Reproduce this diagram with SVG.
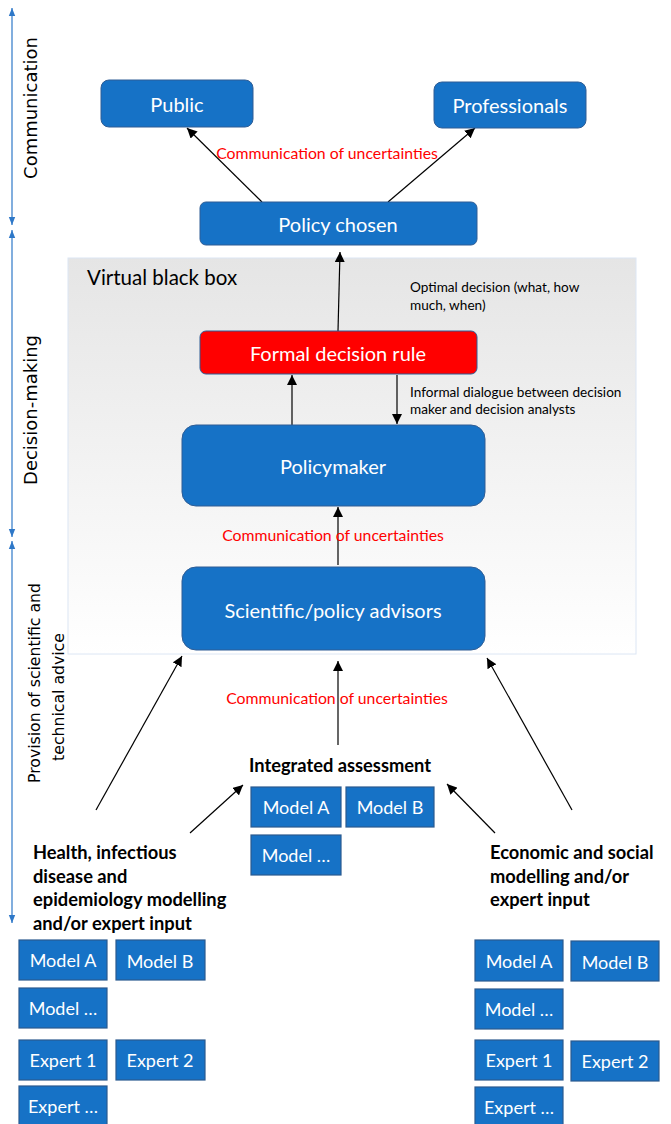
<svg xmlns="http://www.w3.org/2000/svg" width="671" height="1124" viewBox="0 0 671 1124">
<style>
.rb{fill:#1672c6;stroke:#2f5d95;stroke-width:1}
.sq{fill:#1672c6;stroke:#2b5a8f;stroke-width:1.2}
.wt{fill:#fff;font-family:Lato,"Open Sans",sans-serif;text-anchor:middle;dominant-baseline:central}
.red{fill:#ff0000;font-family:Lato,"Open Sans",sans-serif;font-size:15.8px;text-anchor:middle}
.bk{fill:#000;font-family:Lato,"Open Sans",sans-serif;font-size:13.6px}
.bold{fill:#000;font-family:Lato,"Open Sans",sans-serif;font-size:18.3px;font-weight:bold}
.ax{fill:#000;font-family:"DejaVu Sans",sans-serif;font-size:18px;text-anchor:middle}
.ax2{fill:#000;font-family:"DejaVu Sans",sans-serif;font-size:15.7px;text-anchor:middle}
.con{stroke:#000;stroke-width:1.2;fill:none;marker-end:url(#ah)}
.axl{stroke:#2e78c8;stroke-width:1.2;fill:none}
</style>
<defs>
<marker id="ah" markerWidth="10" markerHeight="10" viewBox="0 0 10 10" refX="10" refY="5" orient="auto" markerUnits="userSpaceOnUse">
<path d="M0,0 L10,5 L0,10 Z" fill="#000"/>
</marker>
<marker id="ba" markerWidth="8" markerHeight="8" viewBox="0 0 10 10" refX="10" refY="5" orient="auto" markerUnits="userSpaceOnUse">
<path d="M0,1 L10,5 L0,9 Z" fill="#2e78c8"/>
</marker>
<linearGradient id="gb" x1="0" y1="0" x2="0" y2="1">
<stop offset="0" stop-color="#e5e5e5"/>
<stop offset="1" stop-color="#ffffff"/>
</linearGradient>
</defs>

<g id="axis">
<line class="axl" x1="12" y1="112" x2="12" y2="8" marker-end="url(#ba)"/>
<line class="axl" x1="12" y1="112" x2="12" y2="225" marker-end="url(#ba)"/>
<line class="axl" x1="12" y1="380" x2="12" y2="230" marker-end="url(#ba)"/>
<line class="axl" x1="12" y1="380" x2="12" y2="537" marker-end="url(#ba)"/>
<line class="axl" x1="12" y1="700" x2="12" y2="541" marker-end="url(#ba)"/>
<line class="axl" x1="12" y1="700" x2="12" y2="923" marker-end="url(#ba)"/>
<text class="ax" transform="translate(37,108) rotate(-90)">Communication</text>
<text class="ax" transform="translate(37,410) rotate(-90)">Decision-making</text>
<text class="ax2" transform="translate(40,683) rotate(-90)">Provision of scientific and</text>
<text class="ax2" transform="translate(64,697) rotate(-90)">technical advice</text>
</g>

<g id="blackbox">
<rect x="68" y="258" width="568" height="396" fill="url(#gb)" stroke="#dce6f4" stroke-width="1"/>
<text x="87" y="285" font-family="Lato,'Open Sans',sans-serif" font-size="20.5" fill="#000">Virtual black box</text>
</g>

<g id="connectors">
<line class="con" x1="262" y1="202" x2="187" y2="128"/>
<line class="con" x1="388" y1="202" x2="475" y2="128"/>
<line class="con" x1="338" y1="331" x2="340" y2="252"/>
<line class="con" x1="292" y1="425" x2="292" y2="375"/>
<line class="con" x1="397" y1="375" x2="397" y2="424"/>
<line class="con" x1="338" y1="565" x2="338" y2="507"/>
<line class="con" x1="96" y1="810" x2="182" y2="656"/>
<line class="con" x1="338" y1="745" x2="338" y2="661"/>
<line class="con" x1="572" y1="810" x2="487" y2="658"/>
<line class="con" x1="190" y1="833" x2="243" y2="785"/>
<line class="con" x1="495" y1="833" x2="447" y2="784"/>
<text class="red" x="327" y="159">Communication of uncertainties</text>
<text class="red" x="333" y="541">Communication of uncertainties</text>
<text class="red" x="337" y="704">Communication of uncertainties</text>
<text class="bk" x="410" y="292">Optimal decision (what, how</text>
<text class="bk" x="410" y="310">much, when)</text>
<text class="bk" x="410" y="397">Informal dialogue between decision</text>
<text class="bk" x="410" y="414">maker and decision analysts</text>
</g>

<g id="public"><rect class="rb" x="101" y="80" width="152" height="47" rx="8"/><text class="wt" x="177" y="104" font-size="20">Public</text></g>
<g id="professionals"><rect class="rb" x="434" y="82" width="152" height="46" rx="8"/><text class="wt" x="510" y="105" font-size="20">Professionals</text></g>
<g id="policy-chosen"><rect class="rb" x="200" y="202" width="277" height="43" rx="6"/><text class="wt" x="338" y="224" font-size="20">Policy chosen</text></g>
<g id="formal-rule"><rect x="200" y="331" width="277" height="43" rx="6" fill="#ff0000" stroke="#2f5d95" stroke-width="1"/><text class="wt" x="338" y="353" font-size="20">Formal decision rule</text></g>
<g id="policymaker"><rect class="rb" x="182" y="425" width="303" height="81" rx="14"/><text class="wt" x="333" y="466" font-size="20">Policymaker</text></g>
<g id="advisors"><rect class="rb" x="182" y="567" width="303" height="83" rx="14"/><text class="wt" x="333" y="610" font-size="20">Scientific/policy advisors</text></g>

<g id="integrated">
<text class="bold" x="340" y="772" text-anchor="middle">Integrated assessment</text>
<rect class="sq" x="251" y="787" width="90" height="40"/><text class="wt" x="296" y="807" font-size="18">Model A</text>
<rect class="sq" x="346" y="787" width="88" height="40"/><text class="wt" x="390" y="807" font-size="18">Model B</text>
<rect class="sq" x="251" y="835" width="90" height="40"/><text class="wt" x="296" y="855" font-size="18">Model …</text>
</g>

<g id="health">
<text class="bold" x="33" y="859">Health, infectious</text>
<text class="bold" x="33" y="883">disease and</text>
<text class="bold" x="33" y="906">epidemiology modelling</text>
<text class="bold" x="33" y="930">and/or expert input</text>
<rect class="sq" x="19" y="940" width="88" height="40"/><text class="wt" x="63" y="960" font-size="18">Model A</text>
<rect class="sq" x="116" y="940" width="89" height="40"/><text class="wt" x="160" y="961" font-size="18">Model B</text>
<rect class="sq" x="19" y="988" width="88" height="40"/><text class="wt" x="63" y="1008" font-size="18">Model …</text>
<rect class="sq" x="19" y="1040" width="88" height="40"/><text class="wt" x="63" y="1060" font-size="18">Expert 1</text>
<rect class="sq" x="116" y="1040" width="89" height="40"/><text class="wt" x="160" y="1060" font-size="18">Expert 2</text>
<rect class="sq" x="19" y="1086" width="88" height="40"/><text class="wt" x="63" y="1106" font-size="18">Expert …</text>
</g>

<g id="economic">
<text class="bold" x="490" y="859">Economic and social</text>
<text class="bold" x="490" y="883">modelling and/or</text>
<text class="bold" x="490" y="906">expert input</text>
<rect class="sq" x="475" y="940" width="88" height="41"/><text class="wt" x="519" y="961" font-size="18">Model A</text>
<rect class="sq" x="571" y="941" width="88" height="40"/><text class="wt" x="615" y="962" font-size="18">Model B</text>
<rect class="sq" x="475" y="989" width="88" height="40"/><text class="wt" x="519" y="1009" font-size="18">Model …</text>
<rect class="sq" x="475" y="1040" width="88" height="40"/><text class="wt" x="519" y="1060" font-size="18">Expert 1</text>
<rect class="sq" x="571" y="1041" width="88" height="40"/><text class="wt" x="615" y="1061" font-size="18">Expert 2</text>
<rect class="sq" x="475" y="1087" width="88" height="40"/><text class="wt" x="519" y="1107" font-size="18">Expert …</text>
</g>
</svg>
